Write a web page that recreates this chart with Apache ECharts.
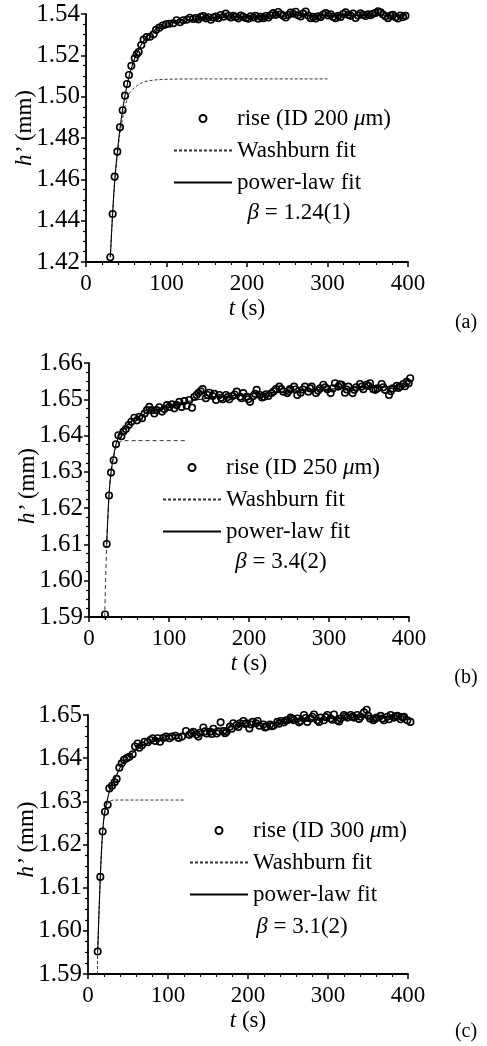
<!DOCTYPE html>
<html>
<head>
<meta charset="utf-8">
<script src="https://cdn.jsdelivr.net/npm/echarts@6/dist/echarts.min.js"></script>
<style>
html,body{margin:0;padding:0;background:#fff;}
#chart{width:487px;height:1046px;}
</style>
</head>
<body>
<div id="chart"></div>
<script>
// ---------- Panel (a): ID 200 um ----------
const tA = [30.2,33.1,35.6,38.9,42.2,45.5,48.4,50.9,53.4,56.3,60.5,63.0,65.4,68.7,71.6,75.4,79.5,84.0,87.0,91.0,95.3,99.4,103.5,108.5,112.6,116.8,120.9,125.5,129.2,133.3,
136.5,139.6,142.7,145.8,148.9,152.0,155.1,158.2,161.3,164.4,167.5,170.6,173.7,176.8,179.9,183.0,186.1,189.2,192.3,195.4,198.5,201.6,204.7,207.8,210.9,214.0,217.1,220.2,223.3,226.4,229.5,232.6,235.7,238.8,241.9,245.0,248.1,251.2,254.3,257.4,260.5,263.6,266.7,269.8,272.9,276.0,279.1,282.2,285.3,288.4,291.5,294.6,297.7,300.8,303.9,307.0,310.1,313.2,316.3,319.4,322.5,325.6,328.7,331.8,334.9,338.0,341.1,344.2,347.3,350.4,353.5,356.6,359.7,362.8,365.9,369.0,372.1,375.2,378.3,381.4,384.5,387.6,390.7,393.8,396.9];
const hA = [1.4223,1.4432,1.4613,1.4734,1.4852,1.4934,1.5005,1.5061,1.5105,1.5149,1.5186,1.5205,1.5216,1.5250,1.5276,1.5289,1.5290,1.5302,1.5323,1.5334,1.5344,1.5350,1.5353,1.5355,1.5370,1.5360,1.5370,1.5373,1.5382,1.5376,
1.5381,1.5374,1.5386,1.5390,1.5379,1.5384,1.5372,1.5383,1.5388,1.5380,1.5395,1.5387,1.5402,1.5390,1.5383,1.5391,1.5386,1.5379,1.5392,1.5387,1.5381,1.5377,1.5389,1.5383,1.5391,1.5377,1.5386,1.5380,1.5390,1.5383,1.5394,1.5404,1.5396,1.5410,1.5399,1.5392,1.5383,1.5395,1.5407,1.5401,1.5411,1.5394,1.5388,1.5402,1.5412,1.5393,1.5380,1.5386,1.5378,1.5389,1.5385,1.5397,1.5404,1.5393,1.5398,1.5386,1.5380,1.5391,1.5386,1.5400,1.5408,1.5396,1.5391,1.5402,1.5381,1.5393,1.5403,1.5396,1.5390,1.5398,1.5394,1.5401,1.5405,1.5413,1.5408,1.5397,1.5389,1.5380,1.5392,1.5396,1.5384,1.5378,1.5393,1.5385,1.5391];
const washTA = [30.2,33.0,36.0,39.0,42.0,45.0,48.0,51.0,54.0,58.0,64.0,70.0,78.0,90.0,110.0,150.0,300.0];
const washHA = [1.4223,1.4430,1.4605,1.4720,1.4815,1.4885,1.4945,1.4985,1.5015,1.5035,1.5055,1.5068,1.5077,1.5082,1.5085,1.5086,1.5086];
const powTA = [30.2,33.0,36.0,39.0,42.0,45.0,48.0,51.0,54.0,57.0,60.0,65.0,70.0,75.0,80.0,90.0,100.0,110.0,125.0,150.0,200.0,250.0,300.0,350.0,399.0];
const powHA = [1.4223,1.4430,1.4610,1.4735,1.4840,1.4925,1.4995,1.5055,1.5105,1.5145,1.5180,1.5225,1.5260,1.5287,1.5307,1.5333,1.5350,1.5362,1.5372,1.5381,1.5388,1.5391,1.5393,1.5394,1.5395];

// ---------- Panel (b): ID 250 um ----------
const tB = [20.0,22.1,25.0,27.5,30.8,33.7,36.7,40.5,43.0,46.0,49.6,52.9,56.7,60.0,62.9,66.3,69.6,72.5,75.4,78.3,81.7,84.6,87.9,91.3,94.2,97.5,100.4,103.8,106.7,109.6,112.9,115.8,119.2,122.1,125.4,128.8,131.7,
134.5,136.7,139.5,142.0,146.0,148.5,150.4,154.6,156.7,158.8,163.0,165.0,167.0,171.3,173.4,175.4,179.6,182.1,184.6,188.8,190.8,192.9,197.0,199.2,201.3,205.4,207.5,209.6,213.8,216.3,218.8,221.5,224.2,228.3,231.0,233.8,237.9,240.4,242.9,247.9,249.6,251.3,256.3,258.4,260.4,264.6,267.3,270.0,274.2,276.3,278.3,283.8,286.3,288.8,292.9,295.4,297.9,302.1,304.8,307.5,311.7,313.8,315.8,320.0,322.1,324.2,329.6,331.7,333.8,338.8,340.9,342.9,347.1,349.2,351.3,355.4,357.9,360.4,365.8,367.9,370.0,375.0,377.3,379.6,384.6,386.7,388.8,392.9,395.0,397.1,399.6,401.5];
const hB = [1.5907,1.6101,1.6235,1.6298,1.6332,1.6376,1.6401,1.6398,1.6411,1.6418,1.6429,1.6438,1.6449,1.6442,1.6452,1.6448,1.6461,1.6470,1.6479,1.6470,1.6461,1.6470,1.6478,1.6466,1.6473,1.6484,1.6479,1.6486,1.6475,1.6484,1.6493,1.6479,1.6495,1.6482,1.6498,1.6477,1.6507,
1.6512,1.6517,1.6522,1.6528,1.6503,1.6512,1.6518,1.6509,1.6515,1.6498,1.6512,1.6504,1.6500,1.6512,1.6506,1.6500,1.6509,1.6513,1.6521,1.6507,1.6503,1.6517,1.6507,1.6500,1.6493,1.6509,1.6515,1.6526,1.6512,1.6505,1.6507,1.6514,1.6509,1.6517,1.6522,1.6528,1.6535,1.6528,1.6521,1.6517,1.6523,1.6528,1.6535,1.6527,1.6512,1.6518,1.6527,1.6535,1.6521,1.6530,1.6535,1.6517,1.6524,1.6530,1.6540,1.6533,1.6528,1.6517,1.6530,1.6544,1.6535,1.6541,1.6540,1.6518,1.6527,1.6535,1.6517,1.6526,1.6533,1.6542,1.6535,1.6528,1.6540,1.6537,1.6544,1.6528,1.6526,1.6530,1.6542,1.6533,1.6526,1.6512,1.6522,1.6530,1.6537,1.6531,1.6535,1.6542,1.6536,1.6548,1.6544,1.6558];
const washTB = [19.6,22.1,25.0,27.5,30.8,33.7,36.7,40.0,45.0,60.0,123.0];
const washHB = [1.5900,1.6101,1.6235,1.6298,1.6340,1.6368,1.6379,1.6384,1.6386,1.6386,1.6386];
const powTB = [22.1,25.0,27.5,30.8,33.7,36.7,40.0,45.0,50.0,60.0,70.0,80.0,90.0,100.0,120.0,140.0,160.0,200.0,250.0,300.0,350.0,400.0];
const powHB = [1.6101,1.6235,1.6298,1.6345,1.6375,1.6395,1.6410,1.6423,1.6434,1.6449,1.6460,1.6469,1.6476,1.6482,1.6492,1.6500,1.6506,1.6514,1.6522,1.6528,1.6533,1.6537];

// ---------- Panel (c): ID 300 um ----------
const tC = [12.1,15.4,18.3,21.3,24.6,26.7,30.0,33.3,35.8,39.2,42.1,45.0,48.3,51.7,55.8,58.8,62.1,64.2,67.5,70.8,74.6,77.9,80.8,84.2,87.1,90.0,94.2,97.5,101.7,105.0,109.2,113.3,117.5,122.5,126.7,
129.2,131.7,135.8,138.0,140.0,144.2,146.3,148.3,152.5,154.6,156.7,160.8,163.3,165.8,169.2,171.3,173.3,177.5,179.6,181.7,185.8,188.0,190.0,194.2,196.3,198.3,201.7,203.8,205.8,210.0,212.1,214.2,219.2,221.3,223.3,227.5,229.6,231.7,236.7,238.8,240.8,245.0,247.1,249.2,253.3,255.4,257.5,261.7,263.8,265.8,270.0,272.1,274.2,278.3,280.4,282.5,286.7,288.8,290.8,295.0,297.1,299.2,303.3,305.4,307.5,311.7,313.8,315.8,320.0,322.1,324.2,328.3,330.4,332.5,336.7,338.8,340.8,345.0,348.3,350.4,352.5,356.7,358.8,360.8,365.8,367.9,370.0,374.2,376.3,378.3,382.5,384.6,386.7,390.8,392.9,395.0,399.2,403.0];
const hC = [1.5952,1.6125,1.6230,1.6276,1.6292,1.6330,1.6336,1.6344,1.6352,1.6378,1.6388,1.6396,1.6400,1.6403,1.6409,1.6427,1.6434,1.6424,1.6430,1.6438,1.6437,1.6442,1.6446,1.6440,1.6446,1.6438,1.6447,1.6450,1.6446,1.6450,1.6452,1.6447,1.6450,1.6463,1.6454,
1.6458,1.6461,1.6455,1.6450,1.6459,1.6471,1.6462,1.6457,1.6461,1.6456,1.6468,1.6457,1.6462,1.6483,1.6463,1.6458,1.6461,1.6473,1.6468,1.6481,1.6477,1.6472,1.6481,1.6486,1.6479,1.6481,1.6469,1.6478,1.6484,1.6481,1.6486,1.6475,1.6478,1.6471,1.6473,1.6478,1.6474,1.6475,1.6484,1.6480,1.6486,1.6483,1.6487,1.6488,1.6494,1.6491,1.6488,1.6492,1.6483,1.6486,1.6500,1.6493,1.6484,1.6492,1.6496,1.6501,1.6488,1.6484,1.6494,1.6488,1.6495,1.6500,1.6492,1.6489,1.6501,1.6488,1.6485,1.6492,1.6500,1.6497,1.6494,1.6500,1.6496,1.6494,1.6500,1.6491,1.6496,1.6506,1.6512,1.6498,1.6492,1.6488,1.6491,1.6494,1.6498,1.6492,1.6488,1.6496,1.6490,1.6500,1.6494,1.6497,1.6498,1.6490,1.6495,1.6496,1.6488,1.6484];
const washTC = [11.8,12.1,15.4,18.3,21.3,24.6,28.0,32.0,60.0,122.0];
const washHC = [1.5900,1.5952,1.6125,1.6230,1.6276,1.6294,1.6301,1.6303,1.6303,1.6303];
const powTC = [12.1,15.4,18.3,21.0,24.0,27.0,30.0,35.0,40.0,45.0,50.0,60.0,70.0,80.0,90.0,100.0,120.0,150.0,200.0,250.0,300.0,350.0,400.0];
const powHC = [1.5952,1.6125,1.6230,1.6277,1.6302,1.6325,1.6340,1.6358,1.6378,1.6393,1.6403,1.6419,1.6431,1.6440,1.6446,1.6451,1.6457,1.6465,1.6477,1.6485,1.6491,1.6495,1.6498];

// ---------- Labels / axes ----------
const riseNames = ['rise (ID 200 μm)','rise (ID 250 μm)','rise (ID 300 μm)'];
const washName = 'Washburn fit';
const powName = 'power-law fit';
const betaTexts = ['1.24(1)','3.4(2)','3.1(2)'];
const panelTags = ['(a)','(b)','(c)'];
const yMins = [1.42,1.59,1.59];
const yMaxs = [1.54,1.66,1.65];
const yIntervals = [0.02,0.01,0.01];
const xTicks = [0,100,200,300,400];

// ---------- Layout ----------
const FONT = 'Liberation Serif';
const FS = 23;
const grids = [
  {left:86, top:14, width:322, height:248},
  {left:89, top:363, width:320, height:254},
  {left:88, top:715, width:320, height:259}
];
const legendPos = [
  {left:173, top:107},
  {left:162, top:456},
  {left:189, top:819}
];
const yNamePad = [[0,0,0,20],[0,0,0,8],[0,0,0,10]];
const betaPos = [[299,213],[281,562],[302,927]];
const tagPos = [[466,323],[466,678],[466,1032]];

const pair = (xs, ys) => xs.map((x,i)=>[x, ys[i]]);
const panels = [
  {t:tA,h:hA,wt:washTA,wh:washHA,pt:powTA,ph:powHA,dash:[3,2]},
  {t:tB,h:hB,wt:washTB,wh:washHB,pt:powTB,ph:powHB,dash:[4,3]},
  {t:tC,h:hC,wt:washTC,wh:washHC,pt:powTC,ph:powHC,dash:[3,2]}
];

const xAxes = [], yAxes = [], series = [], legends = [], graphics = [];
panels.forEach((p, i) => {
  xAxes.push({
    type:'value', gridIndex:i, min:0, max:400, interval:100,
    name:'{i|t} (s)', nameLocation:'middle', nameGap:35, nameMoveOverlap:false,
    nameTextStyle:{fontFamily:FONT, fontSize:FS, color:'#000',
      rich:{i:{fontFamily:FONT, fontSize:FS, fontStyle:'italic', color:'#000'}}},
    axisLine:{show:true, lineStyle:{color:'#000', width:1.8}},
    axisTick:{show:true, inside:false, length:5, lineStyle:{color:'#000', width:1.5}},
    minorTick:{show:true, splitNumber:5, length:3, lineStyle:{color:'#000', width:1.2}},
    splitLine:{show:false},
    axisLabel:{fontFamily:FONT, fontSize:FS, color:'#000', margin:10,
      formatter:v => xTicks.includes(v) ? String(v) : ''}
  });
  yAxes.push({
    type:'value', gridIndex:i, min:yMins[i], max:yMaxs[i], interval:yIntervals[i],
    name:'{i|h’} (mm)', nameLocation:'middle', nameGap:50, nameMoveOverlap:false,
    nameTextStyle:{fontFamily:FONT, fontSize:FS, color:'#000', padding:yNamePad[i],
      rich:{i:{fontFamily:FONT, fontSize:FS, fontStyle:'italic', color:'#000'}}},
    axisLine:{show:true, lineStyle:{color:'#000', width:1.8}},
    axisTick:{show:true, inside:false, length:5, lineStyle:{color:'#000', width:1.5}},
    minorTick:{show:true, splitNumber:4, length:3, lineStyle:{color:'#000', width:1.2}},
    splitLine:{show:false},
    axisLabel:{fontFamily:FONT, fontSize:25, color:'#000', margin:6,
      formatter:v => v.toFixed(2)}
  });
  series.push({
    type:'line', name:washName, xAxisIndex:i, yAxisIndex:i,
    data:pair(p.wt,p.wh), symbol:'none', smooth:0.3, z:2,
    itemStyle:{color:'rgba(0,0,0,0)', borderWidth:0},
    lineStyle:{color:'#333', width:1, type:p.dash}
  });
  series.push({
    type:'line', name:powName, xAxisIndex:i, yAxisIndex:i,
    data:pair(p.pt,p.ph), symbol:'none', smooth:0.3, z:3,
    itemStyle:{color:'rgba(0,0,0,0)', borderWidth:0},
    lineStyle:{color:'#000', width:1.1, type:'solid'}
  });
  series.push({
    type:'scatter', name:riseNames[i], xAxisIndex:i, yAxisIndex:i,
    data:pair(p.t,p.h), symbol:'circle', symbolSize:6.5, clip:false, z:4,
    itemStyle:{color:'rgba(255,255,255,0)', borderColor:'#000', borderWidth:1.6, opacity:1}
  });
  legends.push({
    orient:'vertical', left:legendPos[i].left, top:legendPos[i].top, padding:0,
    itemWidth:58, itemHeight:7, itemGap:9, selectedMode:false,
    data:[riseNames[i], washName, powName],
    formatter: n => n.replace('μ', '{i|μ}'),
    textStyle:{fontFamily:FONT, fontSize:FS, color:'#000',
      rich:{i:{fontFamily:FONT, fontSize:FS, fontStyle:'italic', color:'#000'}}}
  });
  graphics.push({
    type:'text', x:betaPos[i][0], y:betaPos[i][1],
    style:{text:'{b|β} = ' + betaTexts[i], fontFamily:FONT, fontSize:FS, fill:'#000',
      align:'center', verticalAlign:'middle',
      rich:{b:{fontFamily:FONT, fontSize:FS, fontStyle:'italic', fill:'#000'}}}
  });
  graphics.push({
    type:'text', x:tagPos[i][0], y:tagPos[i][1],
    style:{text:panelTags[i], fontFamily:FONT, fontSize:20, fill:'#000',
      align:'center', verticalAlign:'middle'}
  });
});

const chart = echarts.init(document.getElementById('chart'), null, {renderer:'canvas'});
chart.setOption({
  animation:false,
  backgroundColor:'#fff',
  grid:grids.map(g => Object.assign({containLabel:false, outerBoundsMode:'none'}, g)),
  xAxis:xAxes,
  yAxis:yAxes,
  legend:legends,
  series:series,
  graphic:graphics
});
</script>
</body>
</html>
